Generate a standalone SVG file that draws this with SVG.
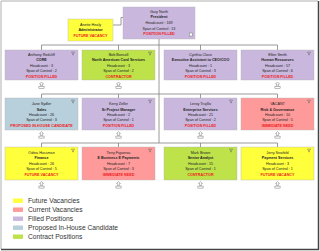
<svg xmlns="http://www.w3.org/2000/svg" width="320" height="251" viewBox="0 0 320 251">
<style>
.t{font-family:"Liberation Sans",Arial,sans-serif;font-size:3.7px;fill:#222;text-anchor:middle}
.b{font-weight:bold}
.s{font-weight:bold;fill:#ee1c1c}
.lg{font-family:"Liberation Sans",Arial,sans-serif;font-size:6.7px;fill:#333}
.lav{fill:#c9b7dd}
.yel{fill:#ffff3c}
.grn{fill:#bde24a}
.blu{fill:#b8cfdc}
.pnk{fill:#ff9a9a}
.box{stroke:#b4b4b4;stroke-width:0.4}
.con{fill:none;stroke:#808080;stroke-width:0.8}
.ic{fill:#fff;stroke:#7a7a7a;stroke-width:0.5}
.fu{fill:none;stroke:#666;stroke-width:0.5}
</style>
<defs>
<g id="exp"><path class="ic" d="M0,0 l-2,2 h1.1 v2 h1.8 v-2 h1.1 z"/><rect class="ic" x="-2.6" y="4.6" width="5.2" height="2"/></g>
<g id="fun"><path class="fu" d="M-1.6,-1.4 h3.2 l-1.1,1.5 v1.2 h-1 v-1.2 z"/></g>
</defs>
<rect x="0" y="0" width="320" height="251" fill="#fff"/>
<path d="M1,249 V1 H318" fill="none" stroke="#b0b0b0" stroke-width="1"/>
<path d="M1,249.5 H318.5 V1" fill="none" stroke="#444" stroke-width="1.5"/>

<g id="connectors">
<path class="con" d="M113,25 H121 V17.5 H123"/>
<path class="con" d="M159,39 V143"/>
<path class="con" d="M41.5,50 V45 H277.5 V50 M118.5,45 V50 M200.5,45 V50"/>
<path class="con" d="M41.5,98 V94 H277.5 V98 M118.5,94 V98 M200.5,94 V98"/>
<path class="con" d="M41.5,147 V143 H277.5 V147 M118.5,143 V147 M200.5,143 V147"/>
</g>

<g id="president">
<rect class="lav box" x="123" y="7" width="72" height="32"/>
<text class="t" x="159" y="13">Gary North</text>
<text class="t b" x="159" y="18.3">President</text>
<text class="t" x="159" y="24">Headcount : 169</text>
<text class="t" x="159" y="29.6">Span of Control : 13</text>
<text class="t s" x="159" y="35.3">POSITION FILLED</text>
<rect class="ic" x="189.3" y="33" width="3" height="3"/>
</g>

<g id="assistant">
<rect class="yel box" x="68" y="19" width="45" height="22"/>
<text class="t" x="90.5" y="25.6">Anette Healy</text>
<text class="t b" x="90.5" y="31">Administrator</text>
<text class="t s" x="90.5" y="36.6">FUTURE VACANCY</text>
</g>

<g id="n-anthony">
<rect class="lav box" x="5" y="50" width="73" height="30"/>
<use href="#fun" x="73" y="53.5"/>
<text class="t" x="41.5" y="55.8">Anthony Redcliff</text>
<text class="t b" x="41.5" y="61.3">CORE</text>
<text class="t" x="41.5" y="66.8">Headcount : 3</text>
<text class="t" x="41.5" y="72.3">Span of Control : 2</text>
<text class="t s" x="41.5" y="77.8">POSITION FILLED</text>
<use href="#exp" x="41.5" y="82"/>
</g>
<g id="n-bob">
<rect class="grn box" x="82" y="50" width="73" height="30"/>
<use href="#fun" x="150" y="53.5"/>
<text class="t" x="118.5" y="55.8">Bob Bonsell</text>
<text class="t b" x="118.5" y="61.3">North American Card Services</text>
<text class="t" x="118.5" y="66.8">Headcount : 3</text>
<text class="t" x="118.5" y="72.3">Span of Control : 2</text>
<text class="t s" x="118.5" y="77.8">CONTRACTOR</text>
<use href="#exp" x="118.5" y="82"/>
</g>
<g id="n-cynthia">
<rect class="lav box" x="164" y="50" width="73" height="30"/>
<text class="t" x="200.5" y="55.8">Cynthia Close</text>
<text class="t b" x="200.5" y="61.3">Executive Assistant to CEO/COO</text>
<text class="t" x="200.5" y="66.8">Headcount : 1</text>
<text class="t" x="200.5" y="72.3">Span of Control : 3</text>
<text class="t s" x="200.5" y="77.8">POSITION FILLED</text>
</g>
<g id="n-ellen">
<rect class="lav box" x="241" y="50" width="73" height="30"/>
<use href="#fun" x="309" y="53.5"/>
<text class="t" x="277.5" y="55.8">Ellen Smith</text>
<text class="t b" x="277.5" y="61.3">Human Resources</text>
<text class="t" x="277.5" y="66.8">Headcount : 57</text>
<text class="t" x="277.5" y="72.3">Span of Control : 6</text>
<text class="t s" x="277.5" y="77.8">POSITION FILLED</text>
<use href="#exp" x="277.5" y="82"/>
</g>

<g id="n-jane">
<rect class="blu box" x="5" y="98" width="73" height="32"/>
<use href="#fun" x="73" y="101.5"/>
<text class="t" x="41.5" y="105.3">Jane Sydler</text>
<text class="t b" x="41.5" y="110.6">Sales</text>
<text class="t" x="41.5" y="115.9">Headcount : 26</text>
<text class="t" x="41.5" y="121.3">Span of Control : 3</text>
<text class="t s" x="41.5" y="126.6">PROPOSED IN-HOUSE CANDIDATE</text>
<use href="#exp" x="41.5" y="131.5"/>
</g>
<g id="n-kerry">
<rect class="lav box" x="82" y="98" width="73" height="32"/>
<use href="#fun" x="150" y="101.5"/>
<text class="t" x="118.5" y="105.3">Kerry Zeller</text>
<text class="t b" x="118.5" y="110.6">Sr Project Manager</text>
<text class="t" x="118.5" y="115.9">Headcount : 2</text>
<text class="t" x="118.5" y="121.3">Span of Control : 1</text>
<text class="t s" x="118.5" y="126.6">POSITION FILLED</text>
<use href="#exp" x="118.5" y="131.5"/>
</g>
<g id="n-leroy">
<rect class="lav box" x="164" y="98" width="73" height="32"/>
<use href="#fun" x="231" y="101.5"/>
<text class="t" x="200.5" y="105.3">Leroy Trujillo</text>
<text class="t b" x="200.5" y="110.6">Enterprise Services</text>
<text class="t" x="200.5" y="115.9">Headcount : 21</text>
<text class="t" x="200.5" y="121.3">Span of Control : 2</text>
<text class="t s" x="200.5" y="126.6">POSITION FILLED</text>
<use href="#exp" x="200.5" y="131.5"/>
</g>
<g id="n-vacant">
<rect class="pnk box" x="241" y="98" width="73" height="32"/>
<use href="#fun" x="309" y="101.5"/>
<text class="t" x="277.5" y="105.3">VACANT</text>
<text class="t b" x="277.5" y="110.6">Risk &amp; Governance</text>
<text class="t" x="277.5" y="115.9">Headcount : 10</text>
<text class="t" x="277.5" y="121.3">Span of Control : 5</text>
<text class="t s" x="277.5" y="126.6">IMMEDIATE NEED</text>
<use href="#exp" x="277.5" y="131.5"/>
</g>

<g id="n-odina">
<rect class="yel box" x="5" y="147" width="73" height="33"/>
<use href="#fun" x="73" y="150.5"/>
<text class="t" x="41.5" y="153.6">Odina Hussman</text>
<text class="t b" x="41.5" y="159">Finance</text>
<text class="t" x="41.5" y="164.5">Headcount : 26</text>
<text class="t" x="41.5" y="169.9">Span of Control : 5</text>
<text class="t s" x="41.5" y="175.5">FUTURE VACANCY</text>
<use href="#exp" x="41.5" y="181.5"/>
</g>
<g id="n-terry">
<rect class="pnk box" x="82" y="147" width="73" height="33"/>
<use href="#fun" x="150" y="150.5"/>
<text class="t" x="118.5" y="153.6">Terry Figueroa</text>
<text class="t b" x="118.5" y="159">E Business E Payments</text>
<text class="t" x="118.5" y="164.5">Headcount : 7</text>
<text class="t" x="118.5" y="169.9">Span of Control : 3</text>
<text class="t s" x="118.5" y="175.5">IMMEDIATE NEED</text>
<use href="#exp" x="118.5" y="181.5"/>
</g>
<g id="n-mark">
<rect class="grn box" x="164" y="147" width="73" height="33"/>
<use href="#fun" x="231" y="150.5"/>
<text class="t" x="200.5" y="153.6">Mark Brown</text>
<text class="t b" x="200.5" y="159">Senior Analyst</text>
<text class="t" x="200.5" y="164.5">Headcount : 15</text>
<text class="t" x="200.5" y="169.9">Span of Control : 1</text>
<text class="t s" x="200.5" y="175.5">CONTRACTOR</text>
<use href="#exp" x="200.5" y="181.5"/>
</g>
<g id="n-jerry">
<rect class="yel box" x="241" y="147" width="73" height="33"/>
<use href="#fun" x="309" y="150.5"/>
<text class="t" x="277.5" y="153.6">Jerry Sewfeld</text>
<text class="t b" x="277.5" y="159">Payment Services</text>
<text class="t" x="277.5" y="164.5">Headcount : 3</text>
<text class="t" x="277.5" y="169.9">Span of Control : 1</text>
<text class="t s" x="277.5" y="175.5">FUTURE VACANCY</text>
<use href="#exp" x="277.5" y="181.5"/>
</g>

<g id="legend">
<rect class="yel" x="13" y="198.5" width="10" height="4.4"/>
<rect class="pnk" x="13" y="207.5" width="10" height="4.4"/>
<rect class="lav" x="13" y="216.5" width="10" height="4.4"/>
<rect class="blu" x="13" y="225.5" width="10" height="4.4"/>
<rect class="grn" x="13" y="234.5" width="10" height="4.4"/>
<text class="lg" x="28" y="203">Future Vacancies</text>
<text class="lg" x="28" y="212">Current Vacancies</text>
<text class="lg" x="28" y="221">Filled Positions</text>
<text class="lg" x="28" y="230">Proposed In-House Candidate</text>
<text class="lg" x="28" y="239">Contract Positions</text>
</g>
</svg>
